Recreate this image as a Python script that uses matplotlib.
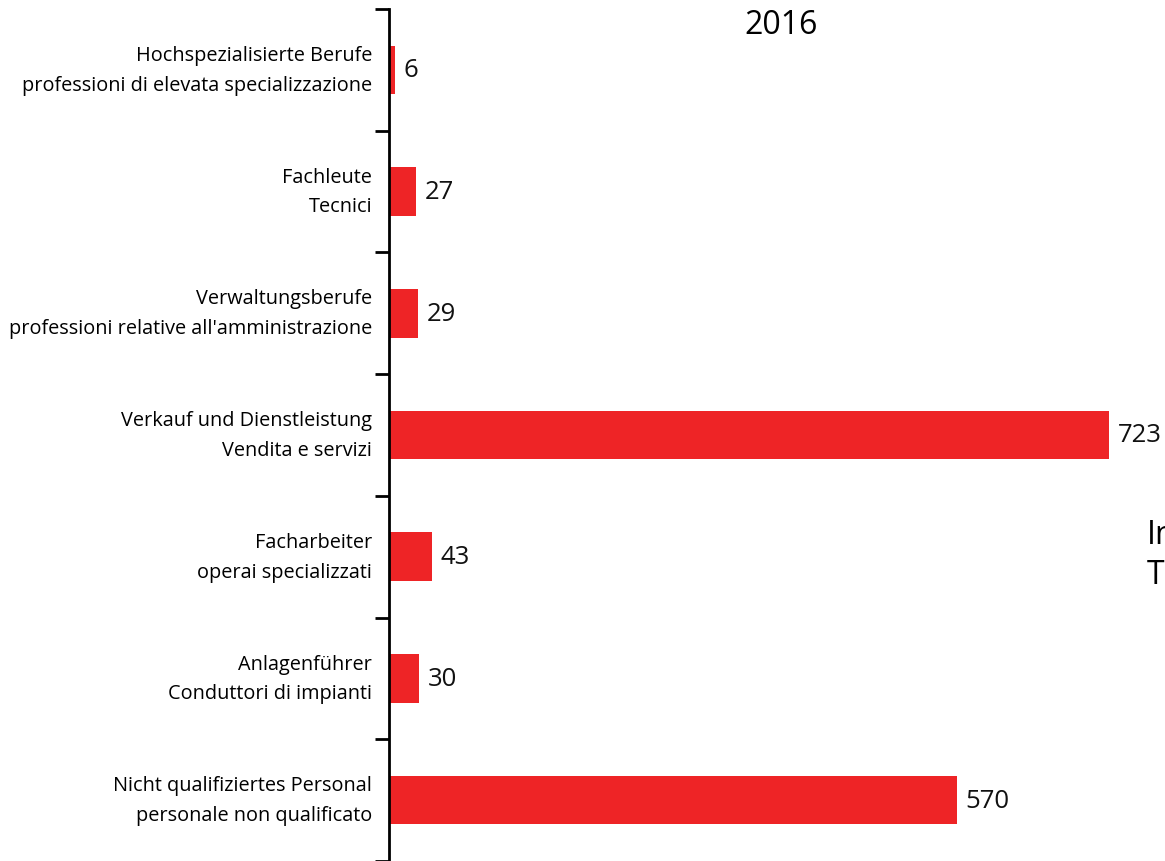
import matplotlib
matplotlib.use("Agg")
import matplotlib.pyplot as plt
import numpy as np

categories = [
    "Hochspezialisierte Berufe\nprofessioni di elevata specializzazione",
    "Fachleute\nTecnici",
    "Verwaltungsberufe\nprofessioni relative all'amministrazione",
    "Verkauf und Dienstleistung\nVendita e servizi",
    "Facharbeiter\noperai specializzati",
    "Anlagenführer\nConduttori di impianti",
    "Nicht qualifiziertes Personal\npersonale non qualificato",
]
values = [6, 27, 29, 723, 43, 30, 570]
year_label = "2016"
total_labels = ["Insgesamt", "Totale"]

plt.rcParams['font.family'] = ['Open Sans', 'DejaVu Sans']

W, H = 1165, 862
fig = plt.figure(figsize=(W / 100, H / 100), dpi=100)
ax = fig.add_axes([389 / W, 0.0, 1 - 389 / W, 1 - 10 / H])

n = len(values)
pos = np.arange(n)
ax.barh(pos, values, height=0.4, color="#EE2426", zorder=2)
ax.set_ylim(n - 0.5, -0.5)
ax.set_xlim(0, (W - 389) / 0.996)

for p, v in zip(pos, values):
    ax.text(v + 9, p, str(v), va="center", ha="left", fontsize=18.5, color="#111111")

ax.set_yticks(pos)
ax.set_yticklabels(categories, fontsize=14.3, linespacing=1.65, ha="right", va="center")
ax.tick_params(axis="y", which="major", length=0, pad=12)
ax.set_yticks(np.arange(-0.5, n, 1.0), minor=True)
ax.tick_params(axis="y", which="minor", length=10, width=2, direction="out")
ax.set_xticks([])
for s in ["top", "right", "bottom"]:
    ax.spines[s].set_visible(False)
ax.spines["left"].set_linewidth(2)

fig.text(781 / W, 1 - 26 / H, year_label, ha="center", va="center", fontsize=23)
fig.text(1147 / W, 1 - 535 / H, total_labels[0], ha="left", va="center", fontsize=23)
fig.text(1147 / W, 1 - 575 / H, total_labels[1], ha="left", va="center", fontsize=23)

fig.savefig("out.png", dpi=100)
